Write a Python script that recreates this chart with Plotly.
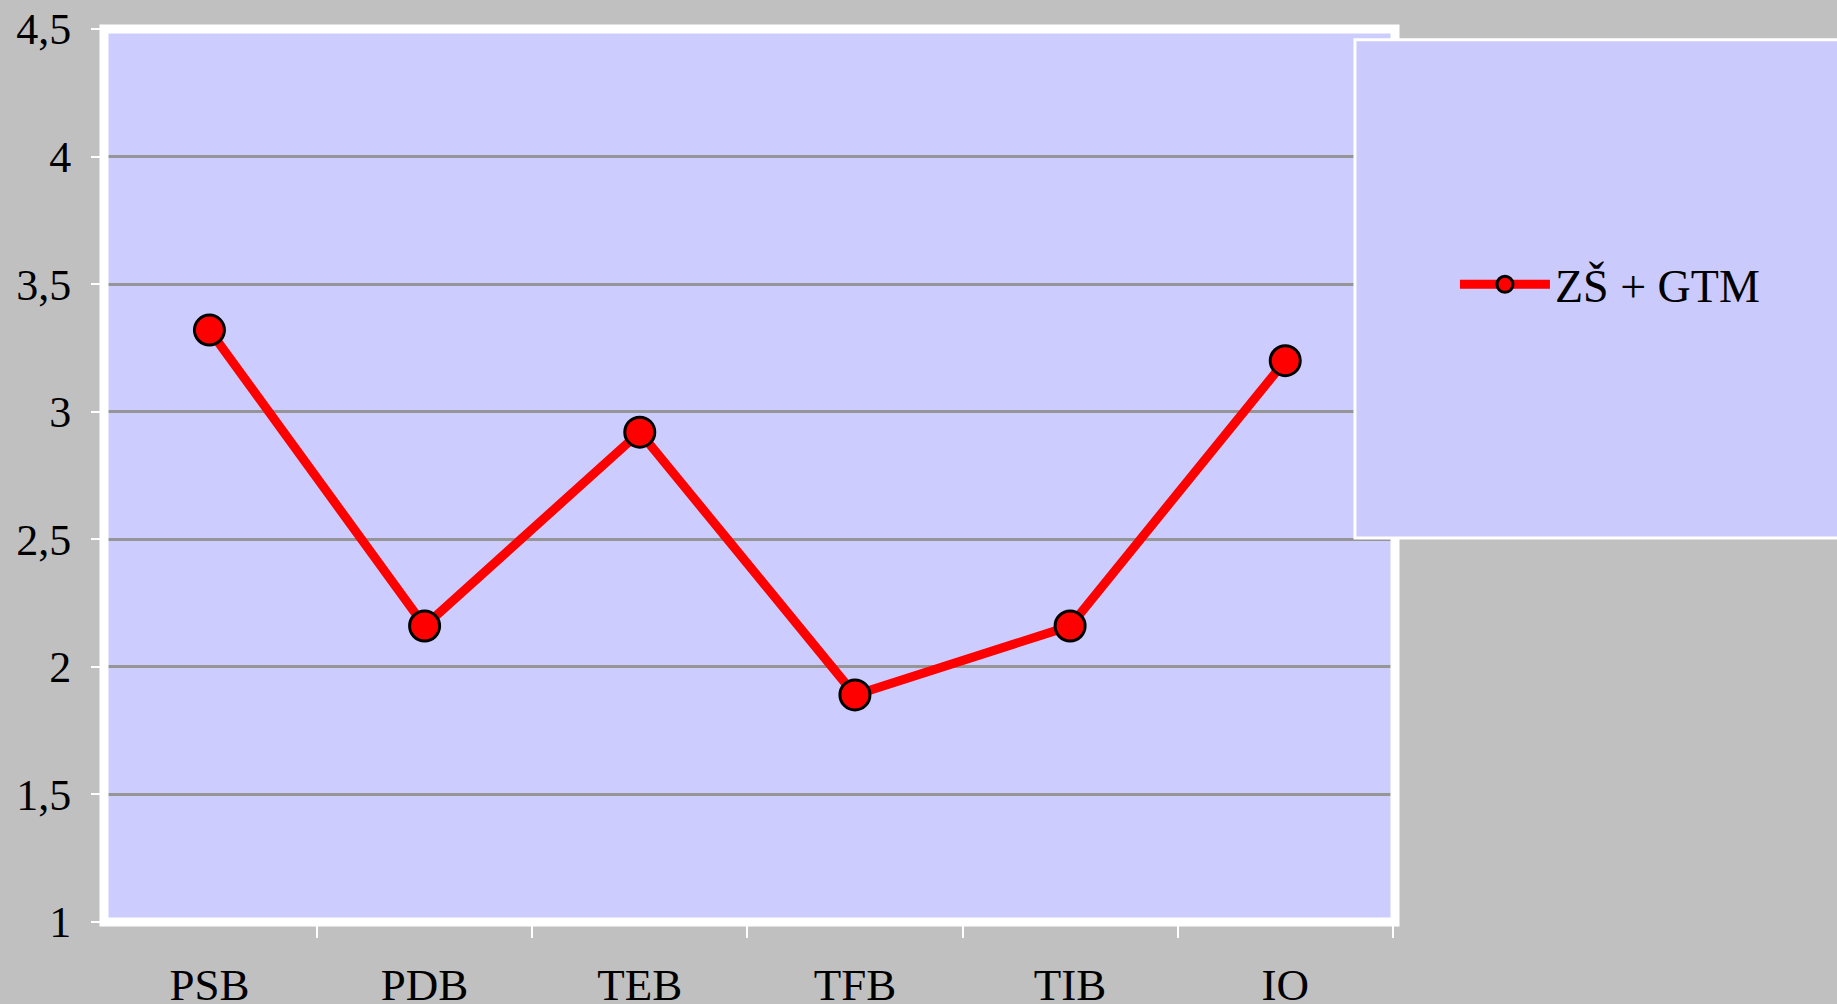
import plotly.graph_objects as go

# Data
categories = ["PSB", "PDB", "TEB", "TFB", "TIB", "IO"]
values = [3.32, 2.16, 2.92, 1.89, 2.16, 3.20]
series_name = "ZŠ + GTM"
y_ticks = [1, 1.5, 2, 2.5, 3, 3.5, 4, 4.5]

FONT = "Liberation Serif, Times New Roman, serif"
PAPER_BG = "#C0C0C0"
PLOT_BG = "#CCCCFF"

fig = go.Figure()

fig.add_trace(
    go.Scatter(
        x=categories,
        y=values,
        name=series_name,
        mode="lines+markers",
        line=dict(color="#FF0000", width=9),
        marker=dict(size=30, color="#FF0000", line=dict(color="#000000", width=3)),
    )
)

fig.update_layout(
    width=1837,
    height=1004,
    autosize=False,
    margin=dict(l=104, r=442, t=29, b=82, autoexpand=False),
    paper_bgcolor=PAPER_BG,
    plot_bgcolor=PLOT_BG,
    separators=", ",
    font=dict(family=FONT, size=44, color="#000000"),
    showlegend=True,
    legend=dict(
        x=1.1665,
        y=0.714,
        xanchor="center",
        yanchor="middle",
        bgcolor="rgba(0,0,0,0)",
        borderwidth=0,
        font=dict(family=FONT, size=46, color="#000000"),
        itemwidth=90,
    ),
)

fig.update_xaxes(
    type="category",
    range=[-0.49, len(categories) - 0.49],
    automargin=False,
    tickson="boundaries",
    ticks="outside",
    ticklen=15,
    tickwidth=2,
    tickcolor="#FFFFFF",
    showgrid=False,
    showline=False,
    zeroline=False,
    ticklabelstandoff=32,
    tickfont=dict(family=FONT, size=45),
)

fig.update_yaxes(
    range=[1, 4.5],
    automargin=False,
    tickvals=y_ticks,
    ticks="outside",
    ticklen=12,
    tickwidth=2,
    tickcolor="#FFFFFF",
    showgrid=True,
    gridcolor="#959595",
    gridwidth=2.5,
    showline=False,
    zeroline=False,
    ticklabelstandoff=11,
    tickfont=dict(family=FONT, size=44),
)

# white frame around the plotting area
fig.add_shape(
    type="rect", xref="paper", yref="paper",
    x0=0, x1=1, y0=0, y1=1,
    line=dict(color="#FFFFFF", width=9),
    fillcolor="rgba(0,0,0,0)",
    layer="above",
)

# legend box (drawn on top of the plot, extending past the right edge)
fig.add_shape(
    type="rect", xref="paper", yref="paper",
    x0=0.969, x1=1.36, y0=0.43, y1=0.988,
    line=dict(color="#FFFFFF", width=3),
    fillcolor="#CACAFC",
    layer="above",
)

# page body margin would shift the figure, so remove it
fig.write_html(
    "out.html",
    config={"displayModeBar": False},
    post_script="document.body.style.margin='0';document.body.style.overflow='hidden';",
)
